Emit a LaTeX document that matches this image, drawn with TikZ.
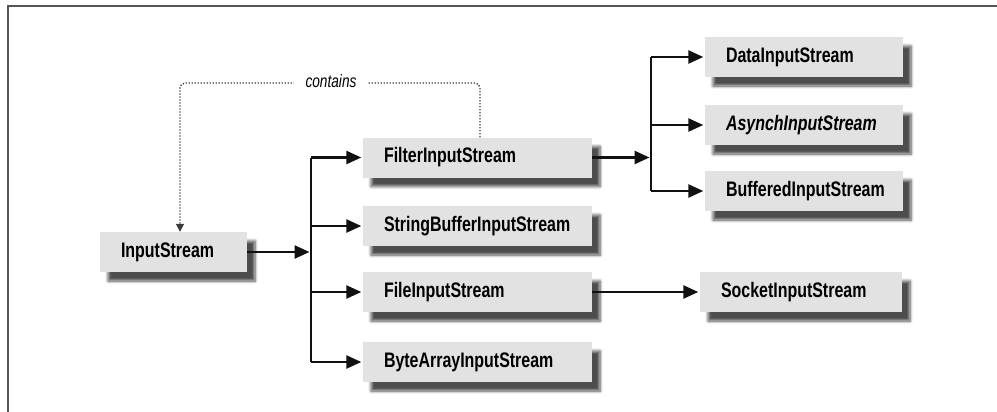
\documentclass[tikz,border=0pt]{standalone}
\usepackage{fontspec}
\newfontfamily\boxfont{Liberation Sans}[FakeStretch=0.76]
\usetikzlibrary{arrows.meta,shadows.blur,calc}
\definecolor{boxgray}{HTML}{E2E2E2}
\definecolor{framegray}{HTML}{555555}
\definecolor{linegray}{HTML}{111111}
\begin{document}
\begin{tikzpicture}[x=1pt,y=-1pt,
  box/.style={fill=boxgray, minimum height=40pt, inner xsep=21pt, inner ysep=0pt,
    text width=#1, align=left, font=\boxfont\bfseries\fontsize{21}{24}\selectfont,
    blur shadow={shadow xshift=8pt, shadow yshift=-9pt, shadow blur radius=3pt,
      shadow blur steps=6, shadow opacity=70}},
  conn/.style={draw=linegray, line width=2.5pt},
  arr/.style={conn, -{Triangle[length=15pt,width=13pt]}, shorten >=1.5pt},
  dotline/.style={draw=framegray!70!black, line width=1.4pt, dash pattern=on 1.3pt off 1.7pt,
    rounded corners=5pt, -{Triangle[length=8pt,width=8pt]}},
  lbl/.style={fill=white, inner xsep=12pt, inner ysep=1pt,
    font=\boxfont\itshape\fontsize{18}{20}\selectfont}
]
\useasboundingbox (0,0) rectangle (997,412);
% frame (top and left edges)
\draw[framegray, line width=2pt] (8,412) -- (8,6) -- (997,6);

% nodes
\node[box=105pt] (is)  at (173.5,252) {InputStream};
\node[box=187pt] (fil) at (477.5,157.5) {FilterInputStream};
\node[box=187pt] (sb)  at (477.5,226) {StringBufferInputStream};
\node[box=187pt] (fi)  at (477.5,292) {FileInputStream};
\node[box=187pt] (ba)  at (477.5,362) {ByteArrayInputStream};
\node[box=156pt] (da)  at (804,57) {DataInputStream};
\node[box=156pt] (as)  at (804,125) {\itshape AsynchInputStream};
\node[box=156pt] (bu)  at (804,191) {BufferedInputStream};
\node[box=160pt] (so)  at (801,292) {SocketInputStream};

% junctions
\coordinate (j1) at (311,252);
\coordinate (j2) at (651,157.5);

% connectors
\draw[arr] (is.east) -- (j1);
\draw[conn] (j1 |- fil.west) -- (j1 |- ba.west);
\draw[arr] (j1 |- fil.west) -- (fil.west);
\draw[arr] (j1 |- sb.west) -- (sb.west);
\draw[arr] (j1 |- fi.west) -- (fi.west);
\draw[arr] (j1 |- ba.west) -- (ba.west);

\draw[arr] (fil.east) -- (j2);
\draw[conn] (j2 |- da.west) -- (j2 |- bu.west);
\draw[arr] (j2 |- da.west) -- (da.west);
\draw[arr] (j2 |- as.west) -- (as.west);
\draw[arr] (j2 |- bu.west) -- (bu.west);

\draw[arr] (fi.east) -- (so.west);

% contains
\coordinate (c1) at (480,83);
\coordinate (c2) at (180,83);
\draw[dotline] ([xshift=2.5pt]fil.north) -- (c1) -- (c2) -- ([xshift=6.5pt]is.north);
\node[lbl] (cl) at (331,81) {contains};
\end{tikzpicture}
\end{document}
